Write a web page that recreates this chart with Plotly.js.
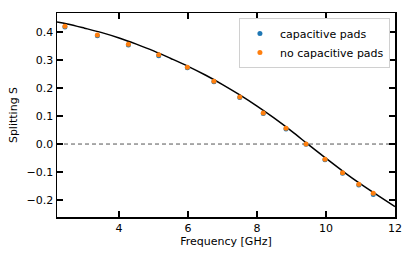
<!DOCTYPE html>
<html><head><meta charset="utf-8">
<script src="https://cdn.plot.ly/plotly-3.0.1.min.js"></script>
<style>html,body{margin:0;padding:0;background:#fff;}#plot{width:415px;height:257px;}</style>
</head><body><div id="plot"></div>
<script>
const freq = [2.43, 3.37, 4.27, 5.15, 5.98, 6.75, 7.50, 8.18, 8.84, 9.42, 9.97, 10.48, 10.95, 11.37];
const splitPads = [0.417, 0.386, 0.353, 0.315, 0.272, 0.222, 0.166, 0.109, 0.054, -0.001, -0.056, -0.104, -0.146, -0.180];
const splitNoPads = [0.420, 0.389, 0.356, 0.318, 0.274, 0.224, 0.168, 0.111, 0.056, 0.000, -0.054, -0.102, -0.143, -0.175];
const fitFreq = [2.2, 2.5, 3.0, 3.5, 4.0, 4.5, 5.0, 5.5, 6.0, 6.5, 7.0, 7.5, 8.0, 8.5, 9.0, 9.5, 10.0, 10.5, 11.0, 11.5, 12.0];
const fitSplit = [0.435, 0.428, 0.413, 0.397, 0.378, 0.356, 0.332, 0.305, 0.277, 0.246, 0.212, 0.175, 0.135, 0.092, 0.046, -0.003, -0.051, -0.098, -0.142, -0.183, -0.223];
const xTicks = [4, 6, 8, 10, 12];
const yTicks = [-0.2, -0.1, 0.0, 0.1, 0.2, 0.3, 0.4];

const font = {family: 'DejaVu Sans, sans-serif', size: 11, color: '#000'};
const traces = [
  {x: [2.2, 12], y: [0, 0], mode: 'lines', line: {color: '#555', width: 1, dash: '4px,3px'}, showlegend: false, hoverinfo: 'skip'},
  {x: fitFreq, y: fitSplit, mode: 'lines', line: {color: '#000', width: 1.5, shape: 'spline'}, showlegend: false},
  {x: freq, y: splitPads, mode: 'markers', name: 'capacitive pads', marker: {color: '#1f77b4', size: 5}},
  {x: freq, y: splitNoPads, mode: 'markers', name: 'no capacitive pads', marker: {color: '#ff7f0e', size: 5}}
];
const axisCommon = {showline: true, linecolor: '#000', linewidth: 1.5, mirror: 'ticks', ticks: 'inside', ticklen: 6, tickwidth: 1.5, tickcolor: '#000', showgrid: false, zeroline: false, tickfont: font};
const layout = {
  width: 415, height: 257,
  margin: {l: 57, r: 20, t: 13, b: 40},
  paper_bgcolor: '#fff', plot_bgcolor: '#fff',
  font: font,
  xaxis: Object.assign({}, axisCommon, {range: [2.2, 12], tickvals: xTicks, ticktext: xTicks.map(String), title: {text: 'Frequency [GHz]', font: font, standoff: 2}}),
  yaxis: Object.assign({}, axisCommon, {range: [-0.26, 0.467], tickvals: yTicks, ticktext: yTicks.map(v => (v < 0 ? '\u2212' : '') + Math.abs(v).toFixed(1)), title: {text: 'Splitting S', font: font, standoff: 6}}),
  legend: {x: 0.985, y: 0.975, xanchor: 'right', yanchor: 'top', bgcolor: 'rgba(255,255,255,0.8)', bordercolor: '#d0d0d0', borderwidth: 1, font: font, itemsizing: 'trace', itemwidth: 30, tracegroupgap: 0},
  showlegend: true
};
Plotly.newPlot('plot', traces, layout, {staticPlot: true, displayModeBar: false});
</script></body></html>
